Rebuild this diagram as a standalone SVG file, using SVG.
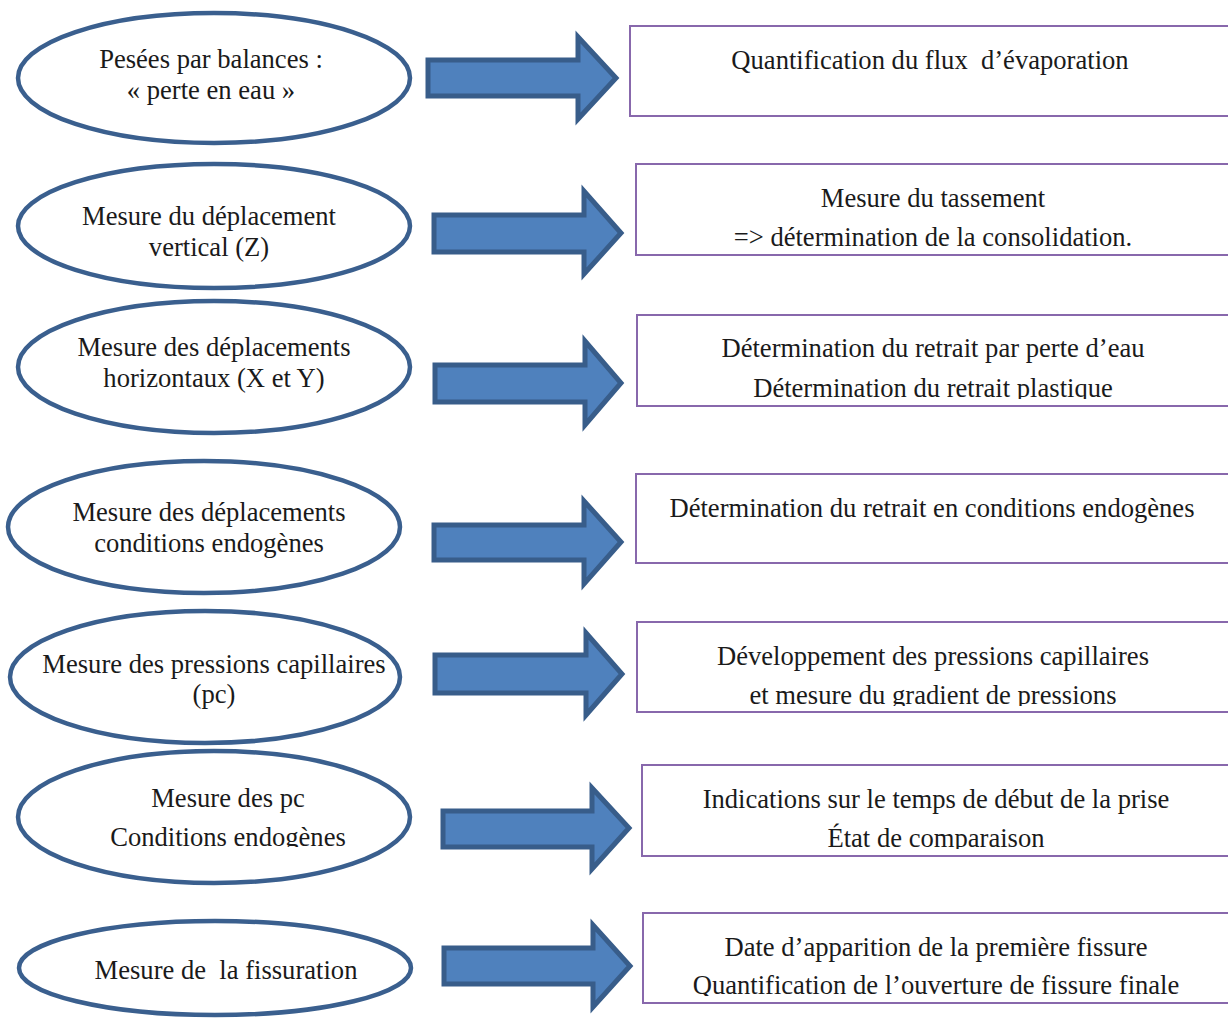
<svg xmlns="http://www.w3.org/2000/svg" width="1228" height="1018" viewBox="0 0 1228 1018">
<style>
.bg{fill:#ffffff}
.ell{fill:#ffffff;stroke:#3A5F8E;stroke-width:4.5}
.box{fill:#ffffff;stroke:#8868AC;stroke-width:2}
.arr{fill:#4F81BD;stroke:#385D8A;stroke-width:5;stroke-linejoin:miter}
text{font-family:"Liberation Serif","Times New Roman",serif;font-size:26.6px;fill:#1a1a1a;text-anchor:middle;white-space:pre}
</style>
<defs>
<clipPath id="c2"><rect x="636" y="164" width="600" height="86"/></clipPath>
<clipPath id="c3"><rect x="637" y="315" width="600" height="84"/></clipPath>
<clipPath id="c5"><rect x="637" y="622" width="600" height="84"/></clipPath>
<clipPath id="c6"><rect x="642" y="765" width="600" height="84"/></clipPath>
<clipPath id="c7"><rect x="643" y="913" width="600" height="83"/></clipPath>
<clipPath id="ce6"><rect x="0" y="760" width="420" height="87"/></clipPath>
</defs>
<rect class="bg" x="0" y="0" width="1228" height="1018"/>

<g id="connectors">
<path class="arr" d="M428,60 L578,60 L578,37 L616,78 L578,119 L578,96 L428,96 Z"/>
<path class="arr" d="M434,215 L584,215 L584,191 L621,233 L584,274 L584,252 L434,252 Z"/>
<path class="arr" d="M435,365 L585,365 L585,341 L621,383 L585,425 L585,402 L435,402 Z"/>
<path class="arr" d="M434,525 L584,525 L584,501 L621,542 L584,584 L584,560 L434,560 Z"/>
<path class="arr" d="M435,655 L586,655 L586,633 L622,674 L586,715 L586,693 L435,693 Z"/>
<path class="arr" d="M443,811 L592,811 L592,788 L629,828 L592,869 L592,847 L443,847 Z"/>
<path class="arr" d="M444,948 L593,948 L593,925 L630,966 L593,1007 L593,984 L444,984 Z"/>
</g>

<g id="n1">
<ellipse class="ell" cx="214" cy="78" rx="196" ry="65"/>
<text x="211" y="68">Pesées par balances :</text>
<text x="211" y="99">« perte en eau »</text>
</g>
<g id="r1">
<rect class="box" x="630" y="26" width="610" height="90"/>
<text x="930" y="69">Quantification du flux  d’évaporation</text>
</g>

<g id="n2">
<ellipse class="ell" cx="214" cy="226" rx="196" ry="62"/>
<text x="209" y="225">Mesure du déplacement</text>
<text x="209" y="256">vertical (Z)</text>
</g>
<g id="r2">
<rect class="box" x="636" y="164" width="604" height="91"/>
<g clip-path="url(#c2)">
<text x="933" y="207">Mesure du tassement</text>
<text x="933" y="246">=&gt; détermination de la consolidation.</text>
</g>
</g>

<g id="n3">
<ellipse class="ell" cx="214" cy="367" rx="196" ry="66"/>
<text x="214" y="356">Mesure des déplacements</text>
<text x="214" y="387">horizontaux (X et Y)</text>
</g>
<g id="r3">
<rect class="box" x="637" y="315" width="603" height="91"/>
<g clip-path="url(#c3)">
<text x="933" y="357">Détermination du retrait par perte d’eau</text>
<text x="933" y="397">Détermination du retrait plastique</text>
</g>
</g>

<g id="n4">
<ellipse class="ell" cx="204" cy="527" rx="196" ry="66"/>
<text x="209" y="521">Mesure des déplacements</text>
<text x="209" y="552">conditions endogènes</text>
</g>
<g id="r4">
<rect class="box" x="636" y="474" width="604" height="89"/>
<text x="932" y="517">Détermination du retrait en conditions endogènes</text>
</g>

<g id="n5">
<ellipse class="ell" cx="205" cy="677" rx="195" ry="66"/>
<text x="214" y="673">Mesure des pressions capillaires</text>
<text x="214" y="703">(pc)</text>
</g>
<g id="r5">
<rect class="box" x="637" y="622" width="603" height="90"/>
<g clip-path="url(#c5)">
<text x="933" y="665">Développement des pressions capillaires</text>
<text x="933" y="704">et mesure du gradient de pressions</text>
</g>
</g>

<g id="n6">
<ellipse class="ell" cx="214" cy="817" rx="196" ry="66"/>
<g clip-path="url(#ce6)">
<text x="228" y="807">Mesure des pc</text>
<text x="228" y="846">Conditions endogènes</text>
</g>
</g>
<g id="r6">
<rect class="box" x="642" y="765" width="598" height="91"/>
<g clip-path="url(#c6)">
<text x="936" y="808">Indications sur le temps de début de la prise</text>
<text x="936" y="847">État de comparaison</text>
</g>
</g>

<g id="n7">
<ellipse class="ell" cx="215" cy="968" rx="196" ry="47"/>
<text x="226" y="979">Mesure de  la fissuration</text>
</g>
<g id="r7">
<rect class="box" x="643" y="913" width="597" height="90"/>
<g clip-path="url(#c7)">
<text x="936" y="956">Date d’apparition de la première fissure</text>
<text x="936" y="994">Quantification de l’ouverture de fissure finale</text>
</g>
</g>
</svg>
